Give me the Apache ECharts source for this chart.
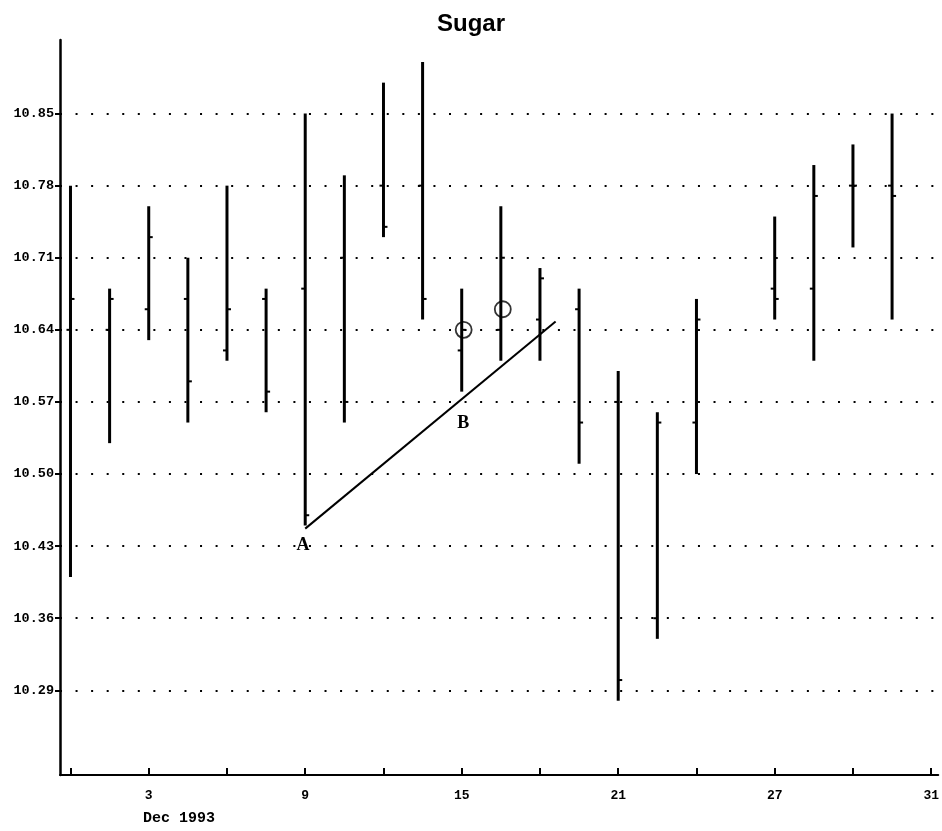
<!DOCTYPE html>
<html>
<head>
<meta charset="utf-8">
<script src="https://cdn.jsdelivr.net/npm/echarts@6/dist/echarts.min.js"></script>
<style>
html,body{margin:0;padding:0;background:#fff;}
#chart{width:942px;height:831px;}
</style>
</head>
<body>
<div id="chart"></div>
<script>
// Trading days of Dec 1993 (index = position on x axis)
const dayLabels = ['1','2','3','6','7','8','9','10','13','14','15','16','17','20','21','22','23','24','27','28','29','30','31'];
// x tick positions (trading-day index) and labelled ticks
const xTicks = [0,2,4,6,8,10,12,14,16,18,20,22];
const xLabelIdx = [2,6,10,14,18,22];
// y tick labels
const yTicks = [10.29,10.36,10.43,10.50,10.57,10.64,10.71,10.78,10.85];

// OHLC bars: trading-day index, open, high, low, close
const barIdx   = [0,1,2,3,4,5,6,7,8,9,10,11,12,13,14,15,16,18,19,20,21];
const barOpen  = [10.64,10.64,10.66,10.67,10.62,10.67,10.68,10.71,10.78,10.78,10.62,10.64,10.65,10.66,10.57,10.36,10.55,10.68,10.68,10.78,10.78];
const barHigh  = [10.78,10.68,10.76,10.71,10.78,10.68,10.85,10.79,10.88,10.90,10.68,10.76,10.70,10.68,10.60,10.56,10.67,10.75,10.80,10.82,10.85];
const barLow   = [10.40,10.53,10.63,10.55,10.61,10.56,10.45,10.55,10.73,10.65,10.58,10.61,10.61,10.51,10.28,10.34,10.50,10.65,10.61,10.72,10.65];
const barClose = [10.67,10.67,10.73,10.59,10.66,10.58,10.46,10.57,10.74,10.67,10.64,10.71,10.69,10.55,10.30,10.55,10.65,10.67,10.77,10.78,10.77];

// Trend line A -> beyond B
const trendX = [6, 12.4];
const trendY = [10.447, 10.648];
// Circled points
const circleX = [10.05, 11.05];
const circleY = [10.64, 10.66];
// Annotation letters
const noteText = ['A','B'];
const noteX = [5.94, 10.04];
const noteY = [10.431, 10.549];

const ohlc = barIdx.map((d,i)=>[d, barOpen[i], barHigh[i], barLow[i], barClose[i]]);

const chart = echarts.init(document.getElementById('chart'));
const monoFont = '"Liberation Mono", "DejaVu Sans Mono", monospace';
const serifFont = '"Liberation Serif", "DejaVu Serif", serif';

chart.setOption({
  animation: false,
  backgroundColor: '#fff',
  title: {
    text: 'Sugar',
    left: 'center',
    top: 7,
    textStyle: {fontFamily: '"Liberation Sans", Arial, sans-serif', fontWeight: 'bold', fontSize: 24, color: '#000'}
  },
  grid: {left: 60, right: 2, top: 40, bottom: 56, containLabel: false},
  xAxis: {
    type: 'value',
    min: -0.268,
    max: 22.18,
    axisLine: {show: true, onZero: false, lineStyle: {color: '#000', width: 2}},
    axisTick: {show: true, inside: true, length: 7, lineStyle: {color: '#000', width: 2}, customValues: xTicks},
    axisLabel: {
      show: true,
      customValues: xLabelIdx,
      margin: 14,
      fontFamily: monoFont, fontWeight: 'bold', fontSize: 13, color: '#000',
      formatter: v => dayLabels[Math.round(v)]
    },
    splitLine: {show: false}
  },
  yAxis: {
    type: 'value',
    min: 10.2078,
    max: 10.9214,
    axisLine: {show: true, onZero: false, lineStyle: {color: '#000', width: 2.5}},
    axisTick: {show: true, inside: false, length: 5, lineStyle: {color: '#000', width: 2}, customValues: yTicks},
    axisLabel: {
      show: true,
      customValues: yTicks,
      margin: 6,
      fontFamily: monoFont, fontWeight: 'bold', fontSize: 13.5, color: '#000',
      formatter: v => v.toFixed(2)
    },
    splitLine: {show: true, lineStyle: {color: '#000', width: 2, type: [2, 13.56]}}
  },
  graphic: [{
    type: 'text', left: 143, top: 811,
    style: {text: 'Dec 1993', font: 'bold 15px ' + monoFont, fill: '#000'}
  }],
  series: [
    {
      type: 'custom',
      data: ohlc,
      clip: false,
      renderItem: function (params, api) {
        const x = api.value(0);
        const o = api.coord([x, api.value(1)]);
        const h = api.coord([x, api.value(2)]);
        const l = api.coord([x, api.value(3)]);
        const c = api.coord([x, api.value(4)]);
        return {
          type: 'group',
          children: [
            {type: 'line', shape: {x1: h[0], y1: h[1], x2: l[0], y2: l[1]}, style: {stroke: '#000', lineWidth: 3}},
            {type: 'line', shape: {x1: o[0] - 4, y1: o[1], x2: o[0], y2: o[1]}, style: {stroke: '#000', lineWidth: 2}},
            {type: 'line', shape: {x1: c[0], y1: c[1], x2: c[0] + 4, y2: c[1]}, style: {stroke: '#000', lineWidth: 2}}
          ]
        };
      }
    },
    {
      type: 'line',
      data: trendX.map((x,i)=>[x, trendY[i]]),
      symbol: 'none',
      lineStyle: {color: '#000', width: 2},
      z: 3
    },
    {
      type: 'scatter',
      data: circleX.map((x,i)=>[x, circleY[i]]),
      symbol: 'circle',
      symbolSize: 16,
      itemStyle: {color: 'rgba(0,0,0,0)', borderColor: '#000', borderWidth: 1.8},
      z: 4
    },
    {
      type: 'custom',
      data: noteX.map((x,i)=>[x, noteY[i], i]),
      clip: false,
      z: 5,
      renderItem: function (params, api) {
        const p = api.coord([api.value(0), api.value(1)]);
        return {
          type: 'text',
          x: p[0], y: p[1],
          style: {
            text: noteText[api.value(2)],
            font: 'bold 18px ' + serifFont,
            fill: '#000',
            align: 'center',
            verticalAlign: 'middle'
          }
        };
      }
    }
  ]
});
</script>
</body>
</html>
